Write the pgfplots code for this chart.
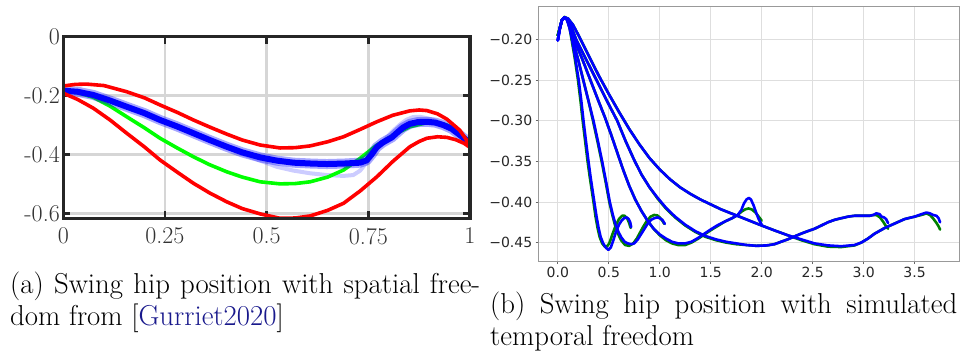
\documentclass[border=0pt]{standalone}
\usepackage{fontspec}
\usepackage{pgfplots}
\pgfplotsset{compat=1.18}
\newfontfamily\dejavu{DejaVu Sans}
\definecolor{citeblue}{rgb}{0.1,0.1,0.55}
\definecolor{mgreen}{rgb}{0,0.5,0}
\begin{document}
\begin{tikzpicture}
\useasboundingbox (0pt,0pt) rectangle (963pt,-351pt);
% ---------------- (a) ----------------
\begin{axis}[
  at={(63.3pt,-218.3pt)}, anchor=south west, scale only axis,
  width=406.7pt, height=181.6pt,
  xmin=0, xmax=1, ymin=-0.617, ymax=0,
  xtick={0,0.25,0.5,0.75,1}, xticklabels={0,0.25,0.5,0.75,1},
  ytick={-0.6,-0.4,-0.2,0}, yticklabels={-0.6,-0.4,-0.2,0},
  grid=major, major grid style={line width=2.6pt, black!16},
  tick pos=both, tick align=inside, major tick length=7pt,
  tick style={line width=2.6pt, black!85},
  axis line style={draw=none},
  ticklabel style={font=\fontsize{24}{28}\selectfont, text=black!80},
  xticklabel style={yshift=-6pt},
  clip mode=individual,
  every axis plot/.append style={line join=round, line cap=round},
]
% faint blue
\addplot[blue, opacity=0.2, line width=4pt] coordinates {
(0,-0.1835) (0.035,-0.187) (0.074,-0.198) (0.115,-0.217) (0.156,-0.238) (0.2,-0.26) (0.238,-0.283) (0.28,-0.305) (0.32,-0.328) (0.36,-0.351) (0.402,-0.376) (0.44,-0.398) (0.484,-0.421) (0.525,-0.442) (0.566,-0.455) (0.607,-0.464) (0.648,-0.47) (0.689,-0.473) (0.713,-0.47) (0.73,-0.455) (0.75,-0.42) (0.771,-0.38) (0.79,-0.35) (0.812,-0.318) (0.83,-0.296) (0.844,-0.282) (0.86,-0.273) (0.877,-0.272) (0.894,-0.277) (0.91,-0.283) (0.93,-0.295) (0.955,-0.313) (0.975,-0.334) (1,-0.36)};
% green
\addplot[color={rgb,1:red,0;green,1;blue,0}, line width=3.6pt] coordinates {
(0,-0.1835) (0.035,-0.19) (0.074,-0.206) (0.115,-0.236) (0.156,-0.272) (0.2,-0.31) (0.238,-0.345) (0.28,-0.378) (0.32,-0.408) (0.36,-0.435) (0.402,-0.459) (0.44,-0.477) (0.484,-0.493) (0.533,-0.5) (0.57,-0.499) (0.607,-0.493) (0.65,-0.477) (0.689,-0.453) (0.73,-0.413) (0.771,-0.368) (0.812,-0.334) (0.852,-0.306) (0.894,-0.292) (0.92,-0.292) (0.943,-0.30) (0.96,-0.31) (0.975,-0.328) (0.99,-0.345) (1,-0.362)};
% blue band
\addplot[blue, opacity=0.35, line width=10pt] coordinates {
(0,-0.1835) (0.035,-0.187) (0.074,-0.198) (0.115,-0.217) (0.156,-0.238) (0.2,-0.26) (0.238,-0.283) (0.28,-0.305) (0.32,-0.328) (0.36,-0.351) (0.402,-0.374) (0.44,-0.393) (0.484,-0.41) (0.525,-0.421) (0.566,-0.428) (0.61,-0.431) (0.648,-0.4326) (0.69,-0.431) (0.73,-0.428) (0.746,-0.42) (0.758,-0.4) (0.771,-0.375) (0.785,-0.36) (0.795,-0.352) (0.808,-0.342) (0.82,-0.327) (0.835,-0.309) (0.852,-0.296) (0.872,-0.29) (0.894,-0.289) (0.915,-0.292) (0.934,-0.30) (0.955,-0.313) (0.975,-0.334) (0.99,-0.35) (1,-0.36)};
\addplot[blue, line width=6pt] coordinates {
(0,-0.1835) (0.035,-0.187) (0.074,-0.198) (0.115,-0.217) (0.156,-0.238) (0.2,-0.26) (0.238,-0.283) (0.28,-0.305) (0.32,-0.328) (0.36,-0.351) (0.402,-0.374) (0.44,-0.393) (0.484,-0.41) (0.525,-0.421) (0.566,-0.428) (0.61,-0.431) (0.648,-0.4326) (0.69,-0.431) (0.73,-0.428) (0.746,-0.42) (0.758,-0.4) (0.771,-0.375) (0.785,-0.36) (0.795,-0.352) (0.808,-0.342) (0.82,-0.327) (0.835,-0.309) (0.852,-0.296) (0.872,-0.29) (0.894,-0.289) (0.915,-0.292) (0.934,-0.30) (0.955,-0.313) (0.975,-0.334) (0.99,-0.35) (1,-0.36)};
% red upper
\addplot[red, line width=3.6pt] coordinates {
(0,-0.1675) (0.03,-0.162) (0.057,-0.161) (0.1,-0.166) (0.156,-0.187) (0.2,-0.208) (0.238,-0.232) (0.28,-0.257) (0.32,-0.283) (0.36,-0.307) (0.402,-0.331) (0.44,-0.351) (0.484,-0.368) (0.533,-0.378) (0.57,-0.377) (0.607,-0.371) (0.65,-0.357) (0.689,-0.34) (0.73,-0.315) (0.771,-0.289) (0.81,-0.267) (0.852,-0.252) (0.875,-0.249) (0.894,-0.251) (0.92,-0.262) (0.943,-0.28) (0.96,-0.30) (0.975,-0.318) (0.99,-0.348) (1,-0.376)};
% red lower
\addplot[red, line width=3.6pt] coordinates {
(0,-0.192) (0.035,-0.213) (0.074,-0.243) (0.115,-0.283) (0.156,-0.328) (0.2,-0.375) (0.238,-0.419) (0.28,-0.46) (0.32,-0.498) (0.36,-0.531) (0.402,-0.561) (0.44,-0.584) (0.484,-0.602) (0.533,-0.617) (0.57,-0.616) (0.607,-0.609) (0.65,-0.59) (0.689,-0.566) (0.73,-0.524) (0.771,-0.476) (0.81,-0.424) (0.852,-0.374) (0.875,-0.356) (0.894,-0.345) (0.92,-0.34) (0.943,-0.342) (0.965,-0.35) (0.985,-0.362) (1,-0.376)};
\draw[line width=3.5pt, black!85] (rel axis cs:0,0) rectangle (rel axis cs:1,1);
\end{axis}
% ---------------- (b) ----------------
\begin{axis}[
  at={(538.7pt,-261pt)}, anchor=south west, scale only axis,
  width=420.5pt, height=255pt,
  xmin=-0.1875, xmax=3.9375, ymin=-0.4727, ymax=-0.1586,
  xtick={0,0.5,1,1.5,2,2.5,3,3.5}, xticklabels={0.0,0.5,1.0,1.5,2.0,2.5,3.0,3.5},
  ytick={-0.45,-0.40,-0.35,-0.30,-0.25,-0.20},
  yticklabels={−0.45,−0.40,−0.35,−0.30,−0.25,−0.20},
  grid=major, major grid style={line width=0.8pt, black!13},
  tick pos=left, tick align=outside, major tick length=3pt,
  tick style={line width=0.8pt, black!60},
  axis line style={line width=1pt, black!40},
  ticklabel style={font=\dejavu\fontsize{14}{16}\selectfont, text=black!85},
  every axis plot/.append style={line join=round, line cap=round, line width=2.6pt},
]
% green
\addplot[mgreen] coordinates {
(0,-0.195) (0.02,-0.185) (0.04,-0.176) (0.066,-0.172) (0.09,-0.175) (0.115,-0.185) (0.135,-0.20) (0.165,-0.222) (0.198,-0.25) (0.222,-0.275) (0.244,-0.30) (0.268,-0.325) (0.292,-0.35) (0.312,-0.368) (0.332,-0.385) (0.35,-0.40) (0.37,-0.418) (0.39,-0.432) (0.41,-0.443) (0.435,-0.451) (0.46,-0.455) (0.48,-0.455) (0.505,-0.451) (0.535,-0.44) (0.565,-0.43) (0.6,-0.421) (0.63,-0.417) (0.655,-0.417) (0.68,-0.42) (0.7,-0.426) (0.715,-0.432)};
\addplot[mgreen] coordinates {
(0,-0.195) (0.02,-0.186) (0.04,-0.176) (0.066,-0.1727) (0.09,-0.175) (0.115,-0.183) (0.145,-0.20) (0.2,-0.225) (0.25,-0.25) (0.3,-0.275) (0.345,-0.30) (0.39,-0.326) (0.43,-0.35) (0.47,-0.376) (0.505,-0.40) (0.535,-0.416) (0.56,-0.428) (0.59,-0.439) (0.62,-0.447) (0.66,-0.453) (0.7,-0.454) (0.74,-0.451) (0.775,-0.445) (0.805,-0.438) (0.84,-0.43) (0.875,-0.423) (0.91,-0.418) (0.945,-0.416) (0.975,-0.4165) (1.0,-0.419) (1.025,-0.423) (1.045,-0.427)};
\addplot[mgreen] coordinates {
(0,-0.195) (0.02,-0.186) (0.04,-0.176) (0.066,-0.1727) (0.09,-0.174) (0.12,-0.182) (0.16,-0.20) (0.24,-0.224) (0.32,-0.25) (0.40,-0.276) (0.46,-0.295) (0.52,-0.316) (0.58,-0.338) (0.64,-0.36) (0.70,-0.38) (0.76,-0.397) (0.82,-0.411) (0.88,-0.423) (0.94,-0.433) (1.0,-0.441) (1.06,-0.447) (1.12,-0.451) (1.18,-0.453) (1.25,-0.453) (1.311,-0.45) (1.38,-0.445) (1.444,-0.4395) (1.51,-0.434) (1.576,-0.429) (1.64,-0.424) (1.709,-0.42) (1.765,-0.416) (1.8,-0.412) (1.84,-0.409) (1.87,-0.408) (1.9,-0.409) (1.94,-0.413) (1.97,-0.418) (2.0,-0.423)};
\addplot[mgreen] coordinates {
(0,-0.195) (0.02,-0.186) (0.04,-0.176) (0.066,-0.1727) (0.09,-0.174) (0.12,-0.18) (0.18,-0.20) (0.28,-0.225) (0.38,-0.25) (0.48,-0.275) (0.583,-0.30) (0.665,-0.325) (0.748,-0.348) (0.82,-0.366) (0.9,-0.382) (0.98,-0.396) (1.06,-0.408) (1.15,-0.419) (1.25,-0.429) (1.35,-0.437) (1.45,-0.443) (1.55,-0.447) (1.65,-0.45) (1.75,-0.452) (1.85,-0.453) (1.95,-0.454) (2.05,-0.4535) (2.125,-0.452) (2.19,-0.449) (2.256,-0.446) (2.32,-0.4425) (2.387,-0.439) (2.45,-0.436) (2.518,-0.433) (2.585,-0.429) (2.649,-0.425) (2.715,-0.422) (2.78,-0.42) (2.85,-0.418) (2.911,-0.417) (2.98,-0.417) (3.059,-0.417) (3.095,-0.416) (3.125,-0.416) (3.16,-0.419) (3.19,-0.424) (3.215,-0.429) (3.24,-0.433)};
\addplot[mgreen] coordinates {
(0,-0.195) (0.02,-0.186) (0.04,-0.176) (0.066,-0.1727) (0.1,-0.174) (0.15,-0.182) (0.2,-0.194) (0.3,-0.219) (0.4,-0.244) (0.5,-0.267) (0.6,-0.289) (0.7,-0.31) (0.8,-0.329) (0.9,-0.346) (1.0,-0.36) (1.1,-0.372) (1.2,-0.382) (1.3,-0.39) (1.4,-0.397) (1.5,-0.403) (1.6,-0.409) (1.7,-0.414) (1.8,-0.419) (1.9,-0.424) (2.0,-0.429) (2.125,-0.435) (2.256,-0.441) (2.387,-0.447) (2.518,-0.452) (2.649,-0.455) (2.78,-0.4555) (2.911,-0.4535) (2.977,-0.45) (3.043,-0.445) (3.108,-0.439) (3.207,-0.432) (3.305,-0.4265) (3.403,-0.421) (3.502,-0.418) (3.567,-0.416) (3.616,-0.414) (3.65,-0.416) (3.68,-0.42) (3.71,-0.425) (3.735,-0.43) (3.75,-0.434)};
% blue
\addplot[blue] coordinates {
(0,-0.201) (0.02,-0.186) (0.04,-0.176) (0.066,-0.1727) (0.09,-0.176) (0.115,-0.186) (0.14,-0.20) (0.17,-0.222) (0.205,-0.25) (0.23,-0.275) (0.252,-0.30) (0.276,-0.325) (0.301,-0.35) (0.32,-0.368) (0.34,-0.385) (0.358,-0.40) (0.38,-0.418) (0.40,-0.432) (0.42,-0.443) (0.445,-0.451) (0.47,-0.456) (0.495,-0.459) (0.52,-0.456) (0.545,-0.447) (0.57,-0.437) (0.6,-0.428) (0.625,-0.423) (0.65,-0.42) (0.675,-0.419) (0.695,-0.421) (0.71,-0.425) (0.72,-0.431)};
\addplot[blue] coordinates {
(0,-0.201) (0.02,-0.186) (0.04,-0.176) (0.066,-0.1727) (0.09,-0.175) (0.115,-0.183) (0.145,-0.20) (0.2,-0.225) (0.25,-0.25) (0.3,-0.275) (0.35,-0.30) (0.395,-0.326) (0.435,-0.35) (0.475,-0.376) (0.51,-0.40) (0.54,-0.416) (0.565,-0.427) (0.595,-0.437) (0.625,-0.444) (0.655,-0.449) (0.685,-0.451) (0.72,-0.452) (0.75,-0.451) (0.785,-0.446) (0.815,-0.44) (0.85,-0.433) (0.88,-0.427) (0.915,-0.422) (0.947,-0.42) (0.975,-0.419) (1.0,-0.42) (1.025,-0.422) (1.05,-0.427)};
\addplot[blue] coordinates {
(0,-0.201) (0.02,-0.186) (0.04,-0.176) (0.066,-0.1727) (0.09,-0.174) (0.12,-0.182) (0.16,-0.20) (0.24,-0.224) (0.32,-0.25) (0.40,-0.276) (0.46,-0.295) (0.52,-0.316) (0.58,-0.338) (0.64,-0.36) (0.70,-0.38) (0.76,-0.397) (0.82,-0.411) (0.88,-0.423) (0.94,-0.433) (1.0,-0.44) (1.06,-0.445) (1.12,-0.449) (1.18,-0.451) (1.25,-0.451) (1.311,-0.449) (1.38,-0.444) (1.444,-0.4385) (1.51,-0.433) (1.576,-0.428) (1.64,-0.424) (1.709,-0.42) (1.765,-0.416) (1.8,-0.41) (1.825,-0.402) (1.85,-0.397) (1.874,-0.395) (1.895,-0.397) (1.92,-0.404) (1.945,-0.413) (1.97,-0.421) (2.0,-0.428)};
\addplot[blue] coordinates {
(0,-0.201) (0.02,-0.186) (0.04,-0.176) (0.066,-0.1727) (0.09,-0.174) (0.12,-0.18) (0.18,-0.20) (0.28,-0.225) (0.38,-0.25) (0.48,-0.275) (0.583,-0.30) (0.665,-0.325) (0.748,-0.348) (0.82,-0.366) (0.9,-0.382) (0.98,-0.395) (1.06,-0.407) (1.15,-0.418) (1.25,-0.428) (1.35,-0.436) (1.45,-0.442) (1.55,-0.446) (1.65,-0.449) (1.75,-0.451) (1.85,-0.453) (1.95,-0.454) (2.05,-0.4535) (2.125,-0.452) (2.19,-0.449) (2.256,-0.446) (2.32,-0.4425) (2.387,-0.439) (2.45,-0.436) (2.518,-0.433) (2.585,-0.429) (2.649,-0.425) (2.715,-0.422) (2.78,-0.42) (2.85,-0.418) (2.911,-0.417) (2.98,-0.417) (3.059,-0.417) (3.095,-0.416) (3.125,-0.414) (3.157,-0.415) (3.175,-0.418) (3.2,-0.419) (3.22,-0.421) (3.24,-0.426)};
\addplot[blue] coordinates {
(0,-0.201) (0.02,-0.186) (0.04,-0.176) (0.066,-0.1727) (0.1,-0.174) (0.15,-0.182) (0.2,-0.194) (0.3,-0.219) (0.4,-0.244) (0.5,-0.267) (0.6,-0.289) (0.7,-0.31) (0.8,-0.329) (0.9,-0.346) (1.0,-0.36) (1.1,-0.372) (1.2,-0.382) (1.3,-0.39) (1.4,-0.397) (1.5,-0.403) (1.6,-0.409) (1.7,-0.414) (1.8,-0.419) (1.9,-0.424) (2.0,-0.429) (2.125,-0.435) (2.256,-0.441) (2.387,-0.446) (2.518,-0.451) (2.649,-0.4535) (2.78,-0.4545) (2.911,-0.453) (2.977,-0.45) (3.043,-0.445) (3.108,-0.439) (3.207,-0.432) (3.305,-0.4265) (3.403,-0.421) (3.502,-0.418) (3.567,-0.415) (3.616,-0.413) (3.65,-0.414) (3.682,-0.416) (3.715,-0.417) (3.735,-0.42) (3.75,-0.425)};
\end{axis}
% ---------------- captions ----------------
\begin{scope}[every node/.style={anchor=base west, inner sep=0pt, font=\fontsize{28.8}{34}\selectfont}]
\node at (10pt,-293pt) {\makebox[470pt][s]{(a) Swing hip position with spatial free-}};
\node at (10pt,-325pt) {dom from [\textcolor{citeblue}{Gurriet2020}]};
\node at (490pt,-313pt) {\makebox[467pt][s]{(b) Swing hip position with simulated}};
\node at (490pt,-345pt) {temporal freedom};
\end{scope}
\end{tikzpicture}
\end{document}
